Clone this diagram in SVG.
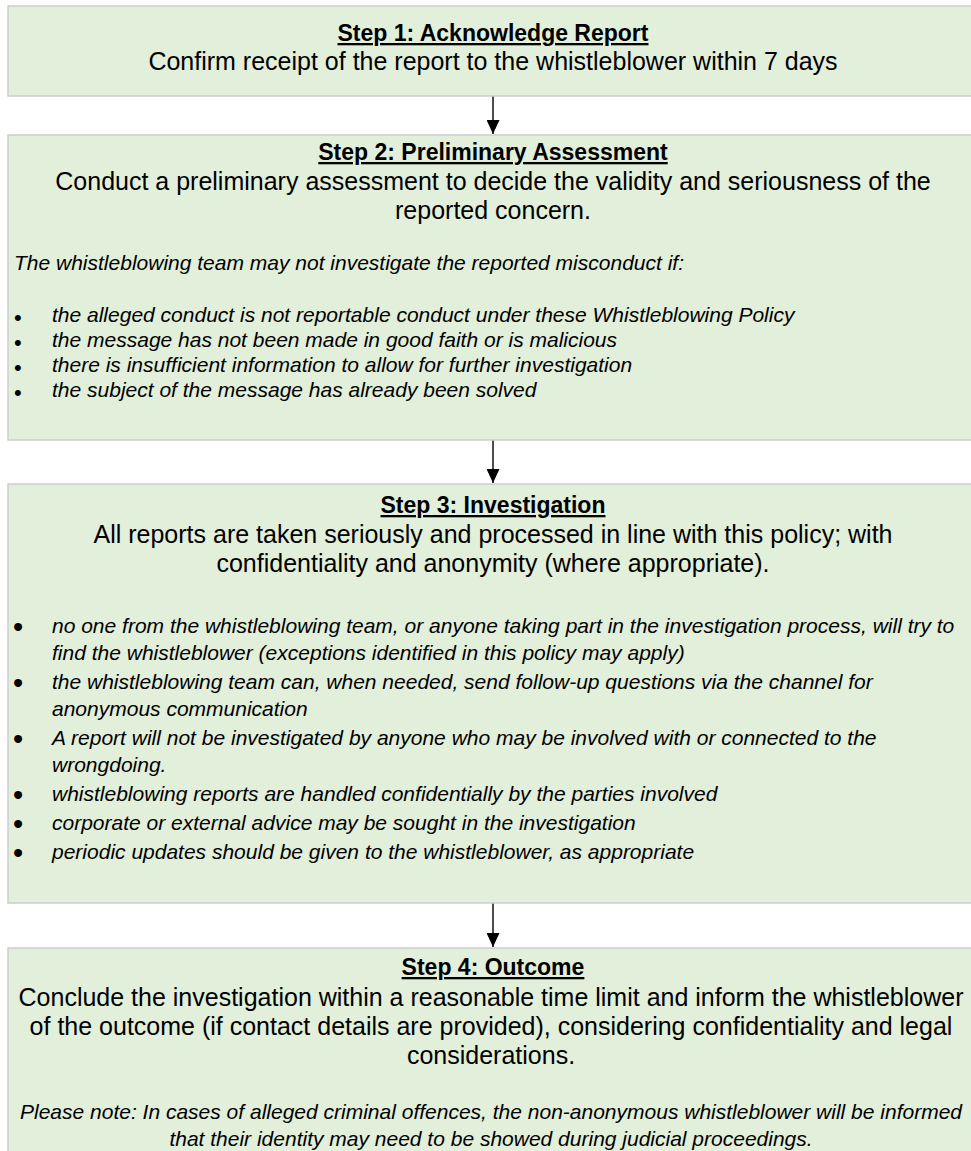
<svg xmlns="http://www.w3.org/2000/svg" width="971" height="1151" viewBox="0 0 971 1151">
  <defs>
    <style>
      .box { fill: #e2efda; stroke: #cdcdcd; stroke-width: 1.5; }
      text { font-family: "Liberation Sans", Arial, sans-serif; fill: #000; }
      .title { font-size: 23px; font-weight: bold; text-anchor: middle; text-decoration: underline; }
      .body { font-size: 25px; text-anchor: middle; }
      .it { font-size: 21px; font-style: italic; }
      .itc { font-size: 21px; font-style: italic; text-anchor: middle; }
      .b2 { font-size: 22px; }
      .b3 { font-size: 29px; }
      .conn { stroke: #000; stroke-width: 1.4; fill: none; }
    </style>
    <marker id="arrow" markerWidth="14" markerHeight="13" refX="14" refY="6.5" orient="auto" markerUnits="userSpaceOnUse">
      <path d="M0,0 L14,6.5 L0,13 Z" fill="#000"/>
    </marker>
  </defs>
  <rect x="0" y="0" width="971" height="1151" fill="#ffffff"/>

  <g id="connectors">
    <line class="conn" x1="493" y1="96" x2="493" y2="134" marker-end="url(#arrow)"/>
    <line class="conn" x1="493" y1="440" x2="493" y2="483" marker-end="url(#arrow)"/>
    <line class="conn" x1="493" y1="903" x2="493" y2="947" marker-end="url(#arrow)"/>
  </g>

  <g id="step1">
    <rect class="box" x="8" y="6" width="990" height="90"/>
    <text class="title" x="493" y="41">Step 1: Acknowledge Report</text>
    <text class="body" x="493" y="70">Confirm receipt of the report to the whistleblower within 7 days</text>
  </g>

  <g id="step2">
    <rect class="box" x="8" y="135" width="990" height="305"/>
    <text class="title" x="493" y="160">Step 2: Preliminary Assessment</text>
    <text class="body" x="493" y="190">Conduct a preliminary assessment to decide the validity and seriousness of the</text>
    <text class="body" x="493" y="219">reported concern.</text>
    <text class="it" x="14" y="270">The whistleblowing team may not investigate the reported misconduct if:</text>
    <text class="b2" x="14" y="325">•</text>
    <text class="it" x="52" y="322">the alleged conduct is not reportable conduct under these Whistleblowing Policy</text>
    <text class="b2" x="14" y="350">•</text>
    <text class="it" x="52" y="347">the message has not been made in good faith or is malicious</text>
    <text class="b2" x="14" y="375">•</text>
    <text class="it" x="52" y="372">there is insufficient information to allow for further investigation</text>
    <text class="b2" x="14" y="400">•</text>
    <text class="it" x="52" y="397">the subject of the message has already been solved</text>
  </g>

  <g id="step3">
    <rect class="box" x="8" y="484" width="990" height="419"/>
    <text class="title" x="493" y="513">Step 3: Investigation</text>
    <text class="body" x="493" y="543">All reports are taken seriously and processed in line with this policy; with</text>
    <text class="body" x="493" y="572">confidentiality and anonymity (where appropriate).</text>
    <text class="b3" x="13" y="637">•</text>
    <text class="it" x="52" y="633">no one from the whistleblowing team, or anyone taking part in the investigation process, will try to</text>
    <text class="it" x="52" y="660">find the whistleblower (exceptions identified in this policy may apply)</text>
    <text class="b3" x="13" y="693">•</text>
    <text class="it" x="52" y="689">the whistleblowing team can, when needed, send follow-up questions via the channel for</text>
    <text class="it" x="52" y="716">anonymous communication</text>
    <text class="b3" x="13" y="749">•</text>
    <text class="it" x="52" y="745">A report will not be investigated by anyone who may be involved with or connected to the</text>
    <text class="it" x="52" y="772">wrongdoing.</text>
    <text class="b3" x="13" y="805">•</text>
    <text class="it" x="52" y="801">whistleblowing reports are handled confidentially by the parties involved</text>
    <text class="b3" x="13" y="834">•</text>
    <text class="it" x="52" y="830">corporate or external advice may be sought in the investigation</text>
    <text class="b3" x="13" y="863">•</text>
    <text class="it" x="52" y="859">periodic updates should be given to the whistleblower, as appropriate</text>
  </g>

  <g id="step4">
    <rect class="box" x="8" y="948" width="990" height="220"/>
    <text class="title" x="493" y="975">Step 4: Outcome</text>
    <text class="body" x="491" y="1006">Conclude the investigation within a reasonable time limit and inform the whistleblower</text>
    <text class="body" x="491" y="1035">of the outcome (if contact details are provided), considering confidentiality and legal</text>
    <text class="body" x="491" y="1064">considerations.</text>
    <text class="itc" x="491" y="1119">Please note: In cases of alleged criminal offences, the non-anonymous whistleblower will be informed</text>
    <text class="itc" x="491" y="1146">that their identity may need to be showed during judicial proceedings.</text>
  </g>
</svg>
